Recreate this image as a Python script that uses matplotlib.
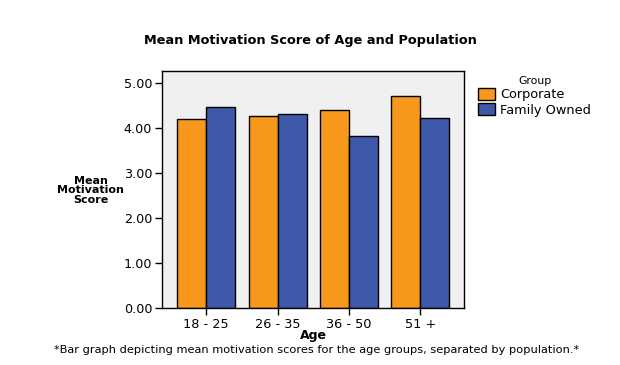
import numpy as np
import matplotlib
matplotlib.use("Agg")
import matplotlib.pyplot as plt

plt.rcParams['font.family'] = ['DejaVu Sans']

# data
age_groups = ["18 - 25", "26 - 35", "36 - 50", "51 +"]
corporate = [4.20, 4.27, 4.40, 4.72]
family_owned = [4.47, 4.32, 3.84, 4.22]
yticks = [0, 1, 2, 3, 4, 5]

fig = plt.figure(figsize=(6.2, 3.65), dpi=100)
ax = fig.add_axes([0.2613, 0.1553, 0.4871, 0.651])
ax.set_facecolor("#f0f0f0")

x = np.arange(len(age_groups))
w = 0.407
b1 = ax.bar(x - w / 2, corporate, w, color="#f7981d", edgecolor="black", linewidth=1, label="Corporate")
b2 = ax.bar(x + w / 2, family_owned, w, color="#3f59aa", edgecolor="black", linewidth=1, label="Family Owned")

ax.set_xlim(-0.621, 3.613)
ax.set_ylim(0, 5.28)
ax.set_xticks(x)
ax.set_xticklabels(age_groups, fontsize=9.3)
ax.set_yticks(yticks)
ax.set_yticklabels(["%.2f" % v for v in yticks], fontsize=9.2)
ax.tick_params(length=5, width=1, direction="out", pad=2)
for s in ax.spines.values():
    s.set_linewidth(1)

fig.text(0.5, 0.89, "Mean Motivation Score of Age and Population", ha="center", va="center",
         fontsize=9.3, fontweight="bold")
fig.text(0.146, 0.479, "Mean\nMotivation\nScore", ha="center", va="center",
         fontsize=8, fontweight="bold", linespacing=0.95)
fig.text(0.505, 0.082, "Age", ha="center", va="center", fontsize=9, fontweight="bold")
fig.text(0.51, 0.04, "*Bar graph depicting mean motivation scores for the age groups, separated by population.*",
         ha="center", va="center", fontsize=8.2)

leg = fig.legend(handles=[b1, b2], title="Group", loc="upper left",
                 bbox_to_anchor=(0.763, 0.805), frameon=False, fontsize=9.3,
                 title_fontsize=7.8, handlelength=1.3, handleheight=1.0,
                 handletextpad=0.4, labelspacing=0.15, borderaxespad=0)

fig.savefig("out.png", dpi=100)
